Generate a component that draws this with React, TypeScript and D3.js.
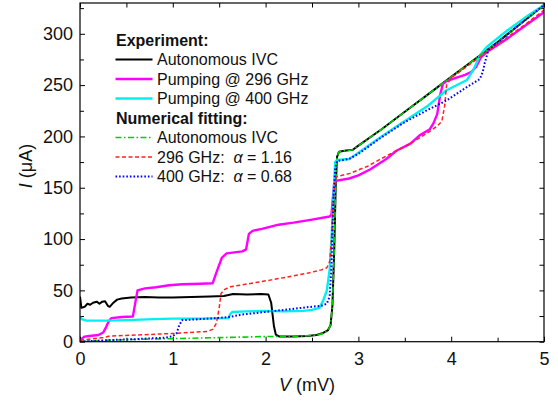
import React, { useEffect, useRef } from "react";
import { select, scaleLinear, line, axisBottom, axisTop, axisLeft, axisRight } from "d3";

// tick values
const vTicks = [0, 1, 2, 3, 4, 5];
const vMinor = [0.5, 1.5, 2.5, 3.5, 4.5];
const iTicks = [0, 50, 100, 150, 200, 250, 300];
const iMinor = [25, 75, 125, 175, 225, 275, 325];

// experiment, [V (mV), I (uA)]
const expAuto = [
  [0, 44], [0.015, 33], [0.05, 34], [0.08, 37], [0.11, 36], [0.14, 38], [0.18, 39], [0.21, 37],
  [0.24, 39], [0.27, 39.5], [0.3, 35], [0.32, 34], [0.36, 38], [0.4, 41], [0.45, 42], [0.55, 43],
  [0.7, 43.5], [0.85, 43], [1.0, 43], [1.2, 43.5], [1.4, 44], [1.55, 44.5], [1.65, 46.5], [1.8, 46],
  [1.95, 46.5], [2.03, 46], [2.06, 38], [2.09, 15], [2.11, 7], [2.15, 5], [2.3, 5], [2.45, 5.5],
  [2.55, 6.5], [2.62, 8.5], [2.67, 11], [2.7, 16], [2.72, 35], [2.74, 90], [2.755, 150], [2.77, 180],
  [2.79, 185], [2.85, 186], [2.94, 187], [3.0, 191], [3.25, 207], [3.5, 224], [3.75, 241],
  [4.0, 258], [4.25, 275], [4.5, 292], [4.75, 310], [5.0, 328],
];
const exp296 = [
  [0, 0], [0.02, 3], [0.05, 5], [0.1, 5.5], [0.2, 6.5], [0.25, 9], [0.28, 14], [0.31, 20], [0.34, 23],
  [0.45, 24], [0.57, 24.5], [0.6, 40], [0.62, 50], [0.7, 52], [0.82, 53], [0.96, 55], [1.1, 56],
  [1.3, 56.5], [1.43, 57], [1.48, 70], [1.53, 82], [1.58, 86], [1.75, 88], [1.79, 90], [1.82, 105],
  [1.86, 108], [1.96, 110], [2.14, 114], [2.3, 116], [2.5, 119], [2.69, 122], [2.71, 124],
  [2.725, 140], [2.74, 155], [2.77, 157], [2.9, 159], [3.0, 162], [3.13, 168], [3.3, 178],
  [3.41, 186], [3.56, 193], [3.66, 201], [3.77, 207], [3.81, 213], [3.85, 222], [3.88, 240],
  [3.91, 251], [3.95, 254], [4.05, 257], [4.15, 260], [4.22, 263], [4.27, 268], [4.32, 277],
  [4.38, 282], [4.6, 295], [4.8, 308], [5.0, 321],
];
const exp400 = [
  [0, 24], [0.02, 22], [0.07, 20.5], [0.3, 20.5], [0.5, 21], [0.8, 22], [1.0, 22.5], [1.3, 22.5],
  [1.6, 23], [1.62, 27], [1.64, 29], [1.8, 29.5], [2.0, 30], [2.2, 29.5], [2.41, 30], [2.5, 31],
  [2.58, 33], [2.62, 40], [2.66, 50], [2.69, 70], [2.71, 99], [2.73, 140], [2.75, 175], [2.77, 177],
  [2.9, 178], [3.0, 184], [3.25, 200], [3.5, 215], [3.75, 230], [3.95, 245], [4.17, 255],
  [4.24, 265], [4.31, 279], [4.38, 287], [4.6, 303], [4.8, 316], [5.0, 328],
];

// numerical fitting
const fitAuto = [
  [0, 0.5], [0.5, 2], [1.0, 3], [1.5, 4], [2.0, 5], [2.4, 5.5], [2.55, 6.5], [2.62, 8], [2.67, 11],
  [2.7, 16], [2.72, 35], [2.74, 90], [2.755, 150], [2.77, 180], [2.79, 185], [2.85, 186],
  [2.94, 187], [3.0, 191], [3.25, 207], [3.5, 224], [3.75, 241], [4.0, 258], [4.25, 275],
  [4.5, 292], [4.75, 310], [5.0, 328],
];
const fit296 = [
  [0, 1.5], [0.25, 4], [0.32, 5.5], [0.6, 6.5], [1.0, 8], [1.37, 10], [1.43, 12], [1.47, 18],
  [1.5, 33], [1.52, 47], [1.56, 51], [1.62, 53.5], [2.05, 60], [2.44, 66.5], [2.6, 70], [2.66, 72],
  [2.69, 78], [2.71, 100], [2.73, 140], [2.75, 158], [2.77, 161], [2.91, 164], [3.1, 171],
  [3.3, 181], [3.56, 193], [3.77, 205], [3.85, 210], [3.9, 215], [3.93, 230], [3.95, 250],
  [4.0, 257], [4.5, 290], [4.75, 306], [5.0, 323],
];
const fit400 = [
  [0, 0], [0.3, 1.5], [0.6, 2.5], [0.93, 4], [1.0, 5.5], [1.04, 8], [1.07, 16], [1.1, 21],
  [1.3, 22], [1.47, 23], [1.6, 24], [1.75, 26.5], [2.0, 29], [2.2, 31], [2.44, 33.5], [2.6, 35],
  [2.66, 37], [2.69, 44], [2.71, 73], [2.73, 138], [2.75, 168], [2.77, 176], [2.9, 178],
  [3.0, 183], [3.23, 198], [3.5, 214], [3.75, 226], [3.95, 235], [4.15, 247], [4.31, 256],
  [4.34, 263], [4.36, 271], [4.4, 284], [4.67, 304], [5.0, 328],
];

const series = [
  { key: "expAuto", data: expAuto },
  { key: "exp296", data: exp296 },
  { key: "exp400", data: exp400 },
  { key: "fitAuto", data: fitAuto },
  { key: "fit296", data: fit296 },
  { key: "fit400", data: fit400 },
];

const looks = {
  expAuto: { color: "#000000", width: 2, dash: null },
  exp296: { color: "#ff00ff", width: 2.4, dash: null },
  exp400: { color: "#00f0f0", width: 2.4, dash: null },
  fitAuto: { color: "#00d000", width: 1.6, dash: "6 2.5 1.5 2.5" },
  fit296: { color: "#ff2020", width: 1.5, dash: "4 2.5" },
  fit400: { color: "#0000ff", width: 2, dash: "1.6 2" },
};

const legendRows = [
  { head: "Experiment:" },
  { key: "expAuto", label: "Autonomous IVC" },
  { key: "exp296", label: "Pumping @ 296 GHz" },
  { key: "exp400", label: "Pumping @ 400 GHz" },
  { head: "Numerical fitting:" },
  { key: "fitAuto", label: "Autonomous IVC" },
  { key: "fit296", label: "296 GHz:", alpha: "1.16" },
  { key: "fit400", label: "400 GHz:", alpha: "0.68" },
];

const W = 558;
const H = 405;
const L = 80, R = 544, T = 3, B = 341.7;
const FONT = "'Liberation Sans', Arial, sans-serif";

const App = () => {
  const svgRef = useRef(null);

  useEffect(() => {
    const svg = select(svgRef.current);
    svg.selectAll("*").remove();

    const x = scaleLinear().domain([0, 5]).range([L, R]);
    const y = scaleLinear().domain([0, 330]).range([B, T]);

    svg.append("defs").append("clipPath").attr("id", "plotclip")
      .append("rect").attr("x", L).attr("y", T - 2).attr("width", R - L).attr("height", B - T + 2);

    const styleAxis = (g, labels) => {
      g.select(".domain").remove();
      g.selectAll("line").attr("stroke", "#000").attr("stroke-width", 1);
      g.selectAll("text").attr("font-size", 18).attr("font-family", FONT).attr("fill", "#111");
      if (!labels) g.selectAll("text").remove();
    };

    svg.append("g").attr("transform", `translate(0,${B})`)
      .call(axisBottom(x).tickValues(vTicks).tickSize(-5).tickPadding(10.5).tickFormat((d) => String(d)))
      .call((g) => styleAxis(g, true));
    svg.append("g").attr("transform", `translate(0,${B})`)
      .call(axisBottom(x).tickValues(vMinor).tickSize(-4))
      .call((g) => styleAxis(g, false));
    svg.append("g").attr("transform", `translate(0,${T})`)
      .call(axisTop(x).tickValues([...vTicks, ...vMinor]).tickSize(-4.5))
      .call((g) => styleAxis(g, false));
    svg.append("g").attr("transform", `translate(${L},0)`)
      .call(axisLeft(y).tickValues(iTicks).tickSize(-5).tickPadding(7).tickFormat((d) => String(d)))
      .call((g) => styleAxis(g, true));
    svg.append("g").attr("transform", `translate(${L},0)`)
      .call(axisLeft(y).tickValues(iMinor.filter((d) => d < 330)).tickSize(-4))
      .call((g) => styleAxis(g, false));
    svg.append("g").attr("transform", `translate(${R},0)`)
      .call(axisRight(y).tickValues([...iTicks, ...iMinor]).tickSize(-4.5))
      .call((g) => styleAxis(g, false));

    const path = line().x((d) => x(d[0])).y((d) => y(d[1]));
    const curves = svg.append("g").attr("clip-path", "url(#plotclip)");
    series.forEach((s) => {
      const lk = looks[s.key];
      curves.append("path")
        .attr("d", path(s.data))
        .attr("fill", "none")
        .attr("stroke", lk.color)
        .attr("stroke-width", lk.width)
        .attr("stroke-linejoin", "round")
        .attr("stroke-dasharray", lk.dash);
    });

    svg.append("rect").attr("x", L).attr("y", T).attr("width", R - L).attr("height", B - T)
      .attr("fill", "none").attr("stroke", "#000").attr("stroke-width", 1.2);

    // legend
    const lg = svg.append("g").attr("font-family", FONT).attr("font-size", 16).attr("fill", "#111");
    legendRows.forEach((row, i) => {
      const cy = 40 + i * 19.5;
      if (row.head) {
        lg.append("text").attr("x", 116).attr("y", cy + 5.5).attr("font-weight", "bold").text(row.head);
        return;
      }
      const lk = looks[row.key];
      lg.append("line").attr("x1", 115.5).attr("x2", 152.5).attr("y1", cy).attr("y2", cy)
        .attr("stroke", lk.color).attr("stroke-width", lk.width).attr("stroke-dasharray", lk.dash);
      const t = lg.append("text").attr("x", 157).attr("y", cy + 5.5).style("white-space", "pre");
      t.append("tspan").text(row.label);
      if (row.alpha) {
        t.append("tspan").text("  ");
        t.append("tspan").attr("font-style", "italic").text("\u03b1");
        t.append("tspan").text(" = " + row.alpha);
      }
    });

    // axis titles
    const xt = svg.append("text").attr("x", 307).attr("y", 391).attr("text-anchor", "middle")
      .attr("font-family", FONT).attr("font-size", 18).attr("fill", "#111");
    xt.append("tspan").attr("font-style", "italic").text("V");
    xt.append("tspan").text(" (mV)");

    const yt = svg.append("text").attr("transform", "translate(32,166) rotate(-90)")
      .attr("text-anchor", "middle").attr("font-family", FONT).attr("font-size", 18).attr("fill", "#111");
    yt.append("tspan").attr("font-style", "italic").text("I");
    yt.append("tspan").text(" (\u03bcA)");
  }, []);

  return (
    <svg
      ref={svgRef}
      width={W}
      height={H}
      style={{ position: "absolute", left: 0, top: 0, background: "#fff" }}
    />
  );
};

export default App;
